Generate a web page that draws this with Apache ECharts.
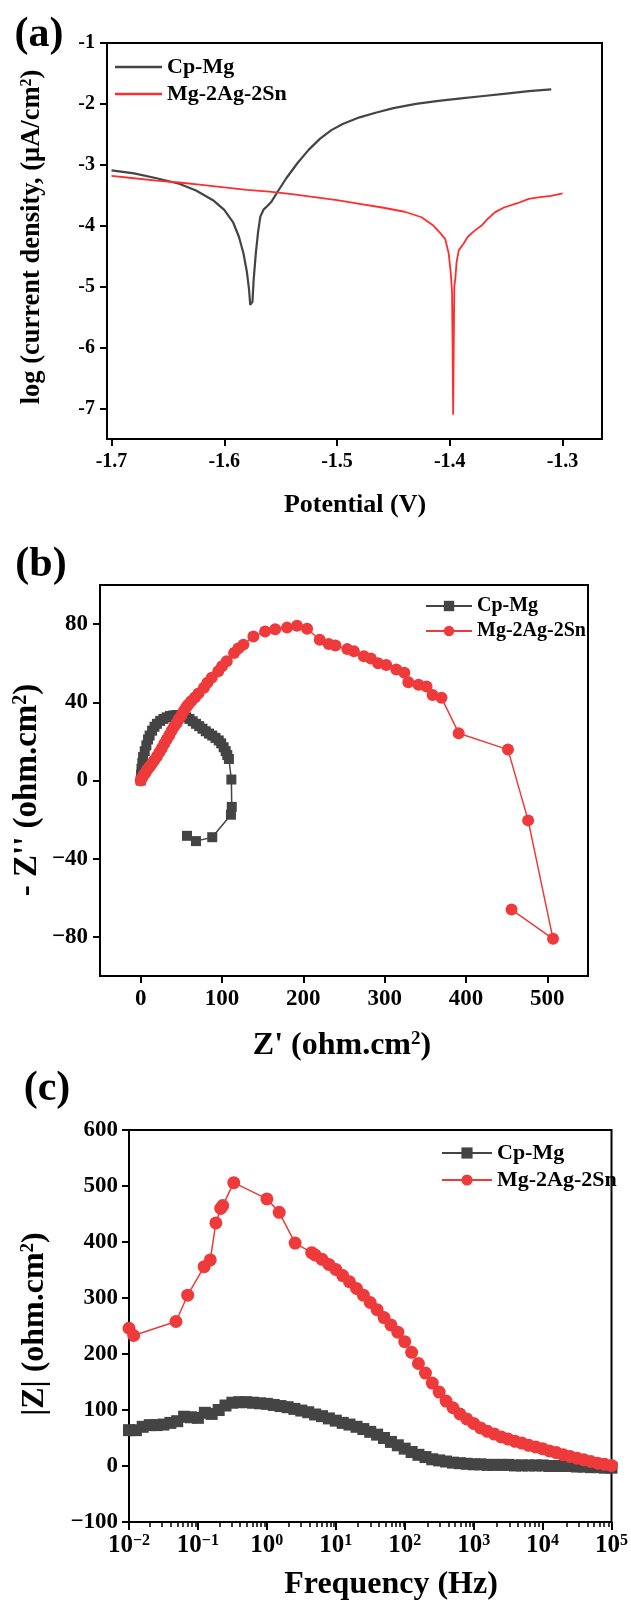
<!DOCTYPE html>
<html><head><meta charset="utf-8">
<script src="https://cdn.jsdelivr.net/npm/echarts@6/dist/echarts.min.js"></script>
<style>html,body{margin:0;padding:0;background:#fff}#c{width:631px;height:1601px}</style>
</head><body><div id="c"></div><script>
// ---------- (a) Tafel curves ----------
const cpMgPotentialA = [-1.700,-1.680,-1.660,-1.640,-1.625,-1.610,-1.600,-1.592,-1.587,-1.583,-1.580,-1.578,-1.577,-1.575,-1.574,-1.572,-1.570,-1.568,-1.565,-1.562,-1.558,-1.553,-1.545,-1.535,-1.525,-1.515,-1.505,-1.495,-1.480,-1.465,-1.450,-1.430,-1.410,-1.390,-1.370,-1.350,-1.330,-1.310];
const cpMgLogIA = [-3.09,-3.14,-3.22,-3.31,-3.42,-3.58,-3.74,-3.95,-4.18,-4.45,-4.75,-5.05,-5.30,-5.25,-4.90,-4.45,-4.10,-3.85,-3.73,-3.68,-3.60,-3.45,-3.22,-2.97,-2.75,-2.57,-2.43,-2.33,-2.22,-2.14,-2.07,-2.00,-1.95,-1.91,-1.87,-1.83,-1.79,-1.76];
const mgPotentialA = [-1.700,-1.680,-1.660,-1.640,-1.620,-1.600,-1.580,-1.560,-1.540,-1.520,-1.500,-1.480,-1.460,-1.440,-1.425,-1.415,-1.408,-1.404,-1.401,-1.399,-1.398,-1.3975,-1.397,-1.3965,-1.396,-1.395,-1.394,-1.392,-1.388,-1.384,-1.378,-1.372,-1.366,-1.360,-1.352,-1.340,-1.330,-1.320,-1.310,-1.300];
const mgLogIA = [-3.18,-3.22,-3.26,-3.29,-3.33,-3.37,-3.41,-3.44,-3.48,-3.53,-3.58,-3.64,-3.70,-3.77,-3.86,-3.99,-4.13,-4.22,-4.45,-4.80,-5.10,-6.00,-7.10,-6.00,-5.00,-4.85,-4.60,-4.40,-4.30,-4.18,-4.08,-4.00,-3.88,-3.78,-3.70,-3.63,-3.56,-3.53,-3.51,-3.47];
const ticksAX = [-1.7,-1.6,-1.5,-1.4,-1.3];
const ticksAY = [-7,-6,-5,-4,-3,-2,-1];

// ---------- (b) Nyquist ----------
const cpZreB = [0,0.5,1,2,3,5,7,9,11,14,17,20,24,28,32,36,40,44,48,52,56,60,64,68,72,76,80,84,88,92,96,99,102,104.5,106.5,108.5,111.5,112,111,88,68,57];
const cpZimB = [0,3,6,9,12,15,18,21,23,25.5,27.5,29,30.5,31.5,32.3,33,33.3,33.5,33.3,33,32.3,31.5,30.3,29,27.8,26.5,25.2,24,23,21.8,20.5,19,17,15,13,11,0.5,-13.5,-17.5,-29,-31,-28.3];
const mgZreB = [0,2,4,6,8,10,12,14,17,20,23,26,29,32,35,38,41,44,47,50,53,56,58.4,62,66.7,71,77.8,82,87.3,95.4,100,105.8,114.8,120,126.3,138.6,153,165.4,179.9,192.2,204.6,220.1,231.2,239.5,254,262.1,274.4,283,291.9,301.9,314.3,324.2,329.1,341.6,351.5,358.9,369.9,391,451.6,476.4,507,456];
const mgZimB = [0,1.5,3,4,5.5,6.5,7.5,8.8,10.5,12.3,14.5,16.5,18.8,21,23,25.5,27.5,29.3,31.5,33.3,35.5,37.5,38.7,40.5,42.4,44.5,47.5,50,52.6,55.9,58.5,61,65.2,67.5,69.5,73.7,76.2,77.4,78.2,79.2,77.6,72,69.8,69.1,67.2,66.1,63.5,62.4,60,59.1,56.8,55.1,50.2,49,48.1,43.7,42.3,24.2,15.8,-20.4,-81,-66];
const ticksBX = [0,100,200,300,400,500];
const ticksBY = [-80,-40,0,40,80];

// ---------- (c) Bode |Z| ----------
const cpFreqC = [0.01,0.0126,0.0158,0.02,0.0251,0.0316,0.0398,0.0501,0.0631,0.0794,0.1,0.126,0.158,0.2,0.251,0.316,0.398,0.501,0.631,0.794,1,1.26,1.58,2,2.51,3.16,3.98,5.01,6.31,7.94,10,12.6,15.8,20,25.1,31.6,39.8,50.1,63.1,79.4,100,126,158,200,251,316,398,501,631,794,1000,1259,1585,1995,2512,3162,3981,5012,6310,7943,10000,12589,15849,19953,25119,31623,39811,50119,63096,79433,100000];
const cpZC = [64,64,70,73,73,74,77,80,88,87,86,95,93,100,108,113,114,114,113,112,111,109,107,105,102,99,96,92,89,85,81,77,74,70,66,61,56,50,43,37,31,25,20,16,12,10,8,6,5,4,3,3,2,2,2,2,1,1,1,1,1,0,0,0,0,-1,-1,-2,-2,-3,-3];
const mgFreqC = [0.01,0.0117,0.048,0.071,0.123,0.151,0.182,0.214,0.229,0.331,1.0,1.51,2.57,4.47,5.01,6.31,7.94,10,12.6,15.8,20,25.1,31.6,39.8,50.1,63.1,79.4,100,126,158,200,251,316,398,501,631,794,1000,1259,1585,1995,2512,3162,3981,5012,6310,7943,10000,12589,15849,19953,25119,31623,39811,50119,63096,79433,100000];
const mgZC = [246,233,258,305,356,368,434,460,465,506,477,453,398,381,377,369,360,351,340,329,317,305,292,279,265,252,239,222,203,183,166,148,132,116,104,93,84,76,68,62,57,52,48,44,41,37,34,31,27,24,20,17,14,11,8,5,3,1];
const ticksCX = [0.01,0.1,1,10,100,1000,10000,100000];

const seriesNames = ['Cp-Mg','Mg-2Ag-2Sn'];

// ---------- styling ----------
const FF = '"Liberation Serif","Times New Roman",serif';
const GRAY = '#444444', RED_A = '#ff2d2d', RED = '#ee3a3a';
const zip = (a, b) => a.map((v, i) => [v, b[i]]);
const minus = v => (v < 0 ? '\u2212' + Math.abs(v) : String(v));
const minorC = [];
for (let d = -2; d < 5; d++) for (let m = 2; m <= 9; m++) minorC.push(m * Math.pow(10, d));

function axisBase(fs, extra) {
  return Object.assign({
    axisLine: {show: true, onZero: false, lineStyle: {color: '#000', width: 2}},
    axisTick: {show: true, inside: false, length: 7, lineStyle: {color: '#000', width: 2}},
    axisLabel: {color: '#000', fontFamily: FF, fontWeight: 'bold', fontSize: fs, margin: 12},
    splitLine: {show: false}
  }, extra);
}
function legendCfg(prefix, left, top, w, h, gap, fs, icon) {
  return {
    orient: 'vertical', left: left, top: top, itemWidth: w, itemHeight: h, itemGap: gap,
    data: seriesNames.map(n => icon ? {name: prefix + n, icon: icon} : prefix + n),
    formatter: n => n.split(':')[1],
    textStyle: {fontFamily: FF, fontWeight: 'bold', fontSize: fs, color: '#000'},
    selectedMode: false
  };
}
function title(text, x, y, fs, rot) {
  return {
    type: 'text', x: x, y: y, rotation: rot || 0, z: 100,
    style: {
      text: text, fill: '#000', fontFamily: FF, fontWeight: 'bold', fontSize: fs,
      align: 'center', verticalAlign: 'middle', textAlign: 'center', textVerticalAlign: 'middle',
      rich: {sup: {fontFamily: FF, fontWeight: 'bold', fontSize: Math.round(fs * 0.6), verticalAlign: 'top', lineHeight: Math.round(fs * 0.6)}}
    }
  };
}

const chart = echarts.init(document.getElementById('c'), null, {renderer: 'canvas'});
chart.setOption({
  animation: false,
  backgroundColor: '#fff',
  grid: [
    {left: 107, top: 43, width: 495, height: 396, show: true, borderColor: '#000', borderWidth: 2},
    {left: 100, top: 585, width: 488, height: 391, show: true, borderColor: '#000', borderWidth: 2},
    {left: 129, top: 1130, width: 486, height: 392, show: true, borderColor: '#000', borderWidth: 2},
    {left: 129, top: 1130, width: 486, height: 392, show: false}
  ],
  xAxis: [
    axisBase(20, {gridIndex: 0, type: 'value', min: -1.704, max: -1.265, position: 'bottom',
      axisTick: {show: true, length: 7, customValues: ticksAX, lineStyle: {color: '#000', width: 2}},
      axisLabel: {customValues: ticksAX, formatter: v => v.toFixed(1), color: '#000', fontFamily: FF, fontWeight: 'bold', fontSize: 20, margin: 13}}),
    axisBase(23, {gridIndex: 1, type: 'value', min: -50, max: 550, position: 'bottom',
      axisTick: {show: true, length: 7, customValues: ticksBX, lineStyle: {color: '#000', width: 2}},
      axisLabel: {customValues: ticksBX, formatter: v => minus(v), color: '#000', fontFamily: FF, fontWeight: 'bold', fontSize: 23, margin: 12}}),
    axisBase(24, {gridIndex: 2, type: 'log', logBase: 10, min: 0.01, max: 100000, position: 'bottom',
      axisTick: {show: true, length: 8, customValues: ticksCX, lineStyle: {color: '#000', width: 2}},
      axisLabel: {customValues: ticksCX, color: '#000', fontFamily: FF, fontWeight: 'bold', fontSize: 25, margin: 11,
        formatter: v => { const e = Math.round(Math.log10(v)); return '10{sup|' + minus(e) + '}'; },
        rich: {sup: {fontFamily: FF, fontWeight: 'bold', fontSize: 16, color: '#000', verticalAlign: 'top', lineHeight: 14}}}}),
    {gridIndex: 3, type: 'log', logBase: 10, min: 0.01, max: 100000, position: 'bottom',
      axisLine: {show: false}, axisLabel: {show: false}, splitLine: {show: false},
      axisTick: {show: true, length: 5, customValues: minorC, lineStyle: {color: '#000', width: 1.5}}}
  ],
  yAxis: [
    axisBase(20, {gridIndex: 0, type: 'value', min: -7.5, max: -1,
      axisTick: {show: true, length: 7, customValues: ticksAY, lineStyle: {color: '#000', width: 2}},
      axisLabel: {customValues: ticksAY, formatter: v => String(v), color: '#000', fontFamily: FF, fontWeight: 'bold', fontSize: 20, margin: 12}}),
    axisBase(23, {gridIndex: 1, type: 'value', min: -100, max: 100,
      axisTick: {show: true, length: 7, customValues: ticksBY, lineStyle: {color: '#000', width: 2}},
      axisLabel: {customValues: ticksBY, formatter: v => minus(v), color: '#000', fontFamily: FF, fontWeight: 'bold', fontSize: 23, margin: 12}}),
    axisBase(23, {gridIndex: 2, type: 'value', min: -100, max: 600, interval: 100,
      axisLabel: {formatter: v => minus(v), color: '#000', fontFamily: FF, fontWeight: 'bold', fontSize: 23, margin: 11}}),
    {gridIndex: 3, type: 'value', min: 0, max: 1, axisLine: {show: false}, axisTick: {show: false}, axisLabel: {show: false}, splitLine: {show: false}}
  ],
  legend: [
    legendCfg('a:', 110, 51, 47, 2.5, 5, 22, 'rect'),
    legendCfg('b:', 420, 591, 46, 13, 5, 20),
    legendCfg('c:', 436, 1137, 50, 14, 5, 22)
  ],
  series: [
    {name: 'a:' + seriesNames[0], type: 'line', xAxisIndex: 0, yAxisIndex: 0, data: zip(cpMgPotentialA, cpMgLogIA),
      symbol: 'none', color: GRAY, lineStyle: {color: GRAY, width: 2.2}},
    {name: 'a:' + seriesNames[1], type: 'line', xAxisIndex: 0, yAxisIndex: 0, data: zip(mgPotentialA, mgLogIA),
      symbol: 'none', color: RED_A, lineStyle: {color: RED_A, width: 1.8}},
    {name: 'b:' + seriesNames[0], type: 'line', xAxisIndex: 1, yAxisIndex: 1, data: zip(cpZreB, cpZimB),
      symbol: 'rect', symbolSize: 10, color: GRAY, itemStyle: {color: GRAY}, lineStyle: {color: GRAY, width: 1.5}},
    {name: 'b:' + seriesNames[1], type: 'line', xAxisIndex: 1, yAxisIndex: 1, data: zip(mgZreB, mgZimB),
      symbol: 'circle', symbolSize: 12, color: RED, itemStyle: {color: RED}, lineStyle: {color: RED, width: 1.5}},
    {name: 'c:' + seriesNames[0], type: 'line', xAxisIndex: 2, yAxisIndex: 2, data: zip(cpFreqC, cpZC),
      symbol: 'rect', symbolSize: 12, color: GRAY, itemStyle: {color: GRAY}, lineStyle: {color: GRAY, width: 1.5}},
    {name: 'c:' + seriesNames[1], type: 'line', xAxisIndex: 2, yAxisIndex: 2, data: zip(mgFreqC, mgZC),
      symbol: 'circle', symbolSize: 13, color: RED, itemStyle: {color: RED}, lineStyle: {color: RED, width: 1.5}},
    {name: 'minorTickHolder', type: 'line', xAxisIndex: 3, yAxisIndex: 3, data: [], silent: true}
  ],
  graphic: [
    title('(a)', 39, 35, 42),
    title('log (current density, (\u03bcA/cm{sup|2})', 32, 237, 26.5, Math.PI / 2),
    title('Potential (V)', 355, 505, 26),
    title('(b)', 41, 565, 42),
    title("- Z'' (ohm.cm{sup|2})", 27, 790, 33, Math.PI / 2),
    title("Z' (ohm.cm{sup|2})", 342, 1046, 32),
    title('(c)', 47, 1089, 42),
    title('|Z| (ohm.cm{sup|2})', 35, 1324, 32, Math.PI / 2),
    title('Frequency (Hz)', 391, 1585, 32)
  ]
});
</script></body></html>
